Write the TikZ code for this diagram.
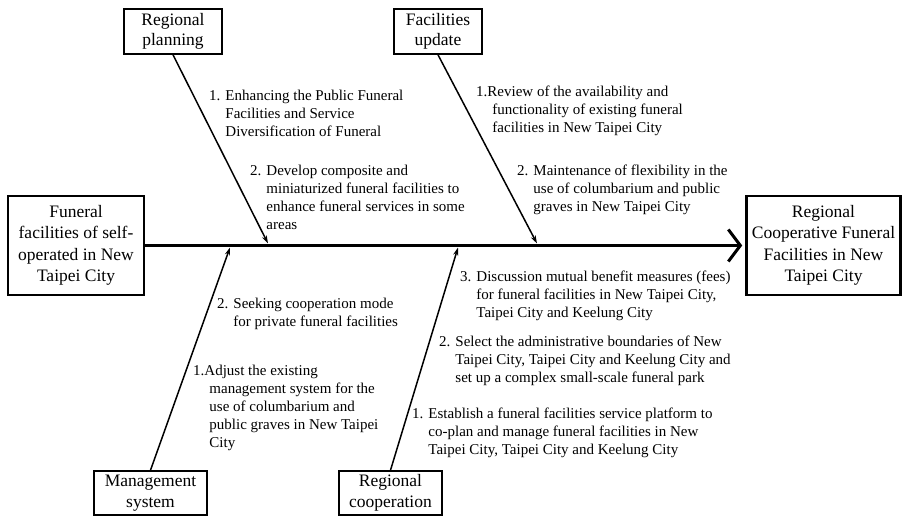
\documentclass[tikz,border=0pt]{standalone}
\usepackage{fontspec}
\setmainfont{Liberation Serif}
\usepackage{tikz}
\usetikzlibrary{arrows.meta, positioning}

% indent for the wrapped lines of a numbered item
\newcommand{\hng}{\hphantom{1. }}

\begin{document}
\begin{tikzpicture}[x=1pt, y=-1pt,
		endbox/.style={draw, line width=2.6pt, align=center, inner sep=0pt,
			font=\fontsize{17.5}{21.5}\selectfont},
		catbox/.style={draw, line width=1.6pt, align=center, inner sep=0pt,
			font=\fontsize{17.5}{20.5}\selectfont},
		item/.style={anchor=north west, align=left, inner sep=0pt,
			font=\fontsize{15}{18}\selectfont},
		spine/.style={line width=3pt, -{Straight Barb[length=12pt, width=32pt]}},
		bone/.style={line width=1.5pt, -{Stealth[length=8pt, width=5pt]}},
	]
		\useasboundingbox (0,0) rectangle (903,521);

		% Head and tail of the fish
		\node[endbox, minimum width=136pt, minimum height=99pt] (self) at (76,245.5)
			{Funeral\\facilities of self-\\operated in New\\Taipei City};
		\node[endbox, minimum width=154pt, minimum height=99pt] (goal) at (823.5,245.5)
			{Regional\\Cooperative Funeral\\Facilities in New\\Taipei City};

		% Category boxes
		\node[catbox, minimum width=98pt, minimum height=45pt] (plan) at (173,31.5)
			{Regional\\planning};
		\node[catbox, minimum width=88pt, minimum height=45pt] (update) at (438,31.5)
			{Facilities\\update};
		\node[catbox, minimum width=113pt, minimum height=44pt] (manage) at (150.5,493)
			{Management\\system};
		\node[catbox, minimum width=103pt, minimum height=44pt] (coop) at (390.5,493)
			{Regional\\cooperation};

		% Where the bones meet the spine
		\coordinate (p1) at (268,243.5);
		\coordinate (p2) at (537,243.5);
		\coordinate (p3) at (230,247.5);
		\coordinate (p4) at (458,247.5);

		% Spine
		\draw[spine, shorten >=3pt] (self) -- (goal);

		% Bones
		\draw[bone] (plan.south) -- (p1);
		\draw[bone] (update.south) -- (p2);
		\draw[bone] (manage.north) -- (p3);
		\draw[bone] (coop.north) -- (p4);

		% Regional planning
		\node[item] (plan1) at (209,90) {1. Enhancing the Public Funeral\\
			\hng Facilities and Service\\ \hng Diversification of Funeral};
		\node[item] (plan2) at (250,165) {2. Develop composite and\\
			\hng miniaturized funeral facilities to\\
			\hng enhance funeral services in some\\ \hng areas};

		% Facilities update
		\node[item] (update1) at (476,86) {1.Review of the availability and\\
			\hng functionality of existing funeral\\
			\hng facilities in New Taipei City};
		\node[item] (update2) at (517,165) {2. Maintenance of flexibility in the\\
			\hng use of columbarium and public\\
			\hng graves in New Taipei City};

		% Management system
		\node[item] (manage2) at (217,298) {2. Seeking cooperation mode\\
			\hng for private funeral facilities};
		\node[item] (manage1) at (193,365) {1.Adjust the existing\\
			\hng management system for the\\
			\hng use of columbarium and\\
			\hng public graves in New Taipei\\ \hng City};

		% Regional cooperation
		\node[item] (coop3) at (460,271) {3. Discussion mutual benefit measures (fees)\\
			\hng for funeral facilities in New Taipei City,\\
			\hng Taipei City and Keelung City};
		\node[item] (coop2) at (439,336) {2. Select the administrative boundaries of New\\
			\hng Taipei City, Taipei City and Keelung City and\\
			\hng set up a complex small-scale funeral park};
		\node[item] (coop1) at (412,408) {1. Establish a funeral facilities service platform to\\
			\hng co-plan and manage funeral facilities in New\\
			\hng Taipei City, Taipei City and Keelung City};
	\end{tikzpicture}
\end{document}
